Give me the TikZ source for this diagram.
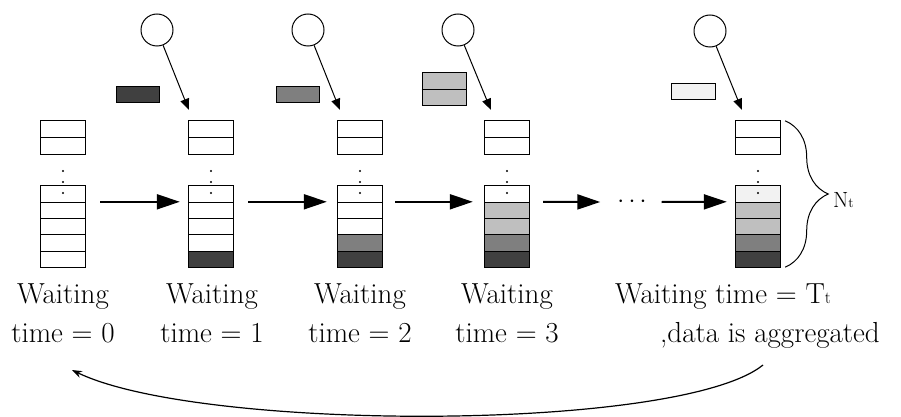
\documentclass[tikz,border=0pt]{standalone}
\usetikzlibrary{arrows.meta,calc,decorations.pathreplacing}

\definecolor{fillA}{HTML}{404040}
\definecolor{fillB}{HTML}{7F7F7F}
\definecolor{fillC}{HTML}{BFBFBF}
\definecolor{fillD}{HTML}{F2F2F2}

\tikzset{
  slot/.style={inner sep=0pt, minimum width=44pt},
  edge/.style={line width=1pt, black},
  source/.style={draw, line width=1pt, circle, minimum size=32pt, inner sep=0pt},
  packet/.style={draw, line width=1pt, inner sep=0pt},
  feed/.style={line width=1pt, -{Triangle[length=11pt,width=9pt]}},
  flow/.style={line width=2pt, -{Triangle[length=23pt,width=15pt]}},
  loopback/.style={line width=1.2pt, -{Stealth[length=10pt,width=7pt]}},
  caption/.style={inner sep=0pt, align=center, anchor=base, font=\fontsize{29}{39}\selectfont},
}

% One buffer: a two-slot head block, three dots, and a five-slot body
% whose cells are filled bottom-up with the colours listed in #3.
\newcommand\bufferstack[3]{%
  \node[slot, minimum height=33pt] (t#1) at (#2+22,137.5) {};
  \node[slot, minimum height=81pt] (b#1) at (#2+22,226.5) {};
  \foreach \c [count=\k from 0] in {#3} {
    \fill[\c] ($(b#1.south west)+(0,-16.2*\k)$) rectangle ++(44,-16.2);
  }
  \draw[edge] (t#1.south west) rectangle (t#1.north east);
  \draw[edge] (t#1.west) -- (t#1.east);
  \draw[edge] (b#1.south west) rectangle (b#1.north east);
  \foreach \k in {1,...,4} {
    \draw[edge] ($(b#1.south west)+(0,-16.2*\k)$) -- ++(44,0);
  }
  \foreach \yy in {171,182,193} { \fill (#2+22,\yy) circle (1.2); }
}

\begin{document}
\begin{tikzpicture}[x=1pt,y=-1pt]
\useasboundingbox (0,0) rectangle (901,417);

% buffers over time
\bufferstack{1}{41}{white,white,white,white,white}
\bufferstack{2}{189}{fillA,white,white,white,white}
\bufferstack{3}{338}{fillA,fillB,white,white,white}
\bufferstack{4}{485}{fillA,fillB,fillC,fillC,white}
\bufferstack{5}{736}{fillA,fillB,fillC,fillC,fillD}

% data sources
\node[source] (c2) at (157,30) {};
\node[source] (c3) at (308,30) {};
\node[source] (c4) at (458,30) {};
\node[source] (c5) at (710,31) {};

% arriving packets
\node[packet, fill=fillA, minimum width=43pt, minimum height=16pt] (r2) at (137.5,95) {};
\node[packet, fill=fillB, minimum width=43pt, minimum height=16pt] (r3) at (297.5,95) {};
\node[packet, fill=fillC, minimum width=44pt, minimum height=33pt] (r4) at (444,89.5) {};
\draw[edge] (r4.west) -- (r4.east);
\node[packet, fill=fillD, minimum width=44pt, minimum height=16pt] (r5) at (693,92) {};

% source -> buffer
\draw[feed] (c2) -- ([xshift=0pt,yshift=11pt]t2.north west);
\draw[feed] (c3) -- ([xshift=2pt,yshift=11pt]t3.north west);
\draw[feed] (c4) -- ([xshift=6pt,yshift=11pt]t4.north west);
\draw[feed] (c5) -- ([xshift=6pt,yshift=11pt]t5.north west);

% progression in time
\node[inner sep=0pt, minimum width=25pt, minimum height=10pt, font=\fontsize{24}{24}\selectfont] (gap) at (632,202) {$\cdots$};
\draw[flow] ([xshift=15pt,yshift=-16pt]b1.north east) -- ([xshift=-9pt,yshift=-16pt]b2.north west);
\draw[flow] ([xshift=15pt,yshift=-16pt]b2.north east) -- ([xshift=-11pt,yshift=-16pt]b3.north west);
\draw[flow] ([xshift=13pt,yshift=-16pt]b3.north east) -- ([xshift=-12pt,yshift=-16pt]b4.north west);
\draw[flow] ([xshift=14pt,yshift=-16pt]b4.north east) -- ([xshift=-17pt]gap.west);
\draw[flow] ([xshift=15pt]gap.east) -- ([xshift=-9pt,yshift=-16pt]b5.north west);

% buffer size
\draw[edge, decorate, decoration={brace, amplitude=43pt}]
  ([xshift=5pt]t5.north east) -- ([xshift=5pt]b5.south east);
\node[inner sep=0pt, anchor=base west, font=\fontsize{22}{22}\selectfont] (nt) at (833,207)
  {N{\fontsize{14}{14}\selectfont t}};

% captions (anchored on the baseline of their last line)
\node[caption] (lab1) at (63,342) {Waiting\\time = 0};
\node[caption] (lab2) at (212,342) {Waiting\\time = 1};
\node[caption] (lab3) at (360,342) {Waiting\\time = 2};
\node[caption] (lab4) at (507,342) {Waiting\\time = 3};
\node[caption] (agg1) at (723,303) {Waiting time = T{\fontsize{17}{17}\selectfont t}};
\node[caption] (agg2) at (770,342) {,data is aggregated};

% reset after aggregation
\coordinate (backS) at (763,365);
\coordinate (backE) at (72,370);
\draw[loopback] (backS) .. controls (680,432) and (200,432) .. (backE);

\end{tikzpicture}
\end{document}
